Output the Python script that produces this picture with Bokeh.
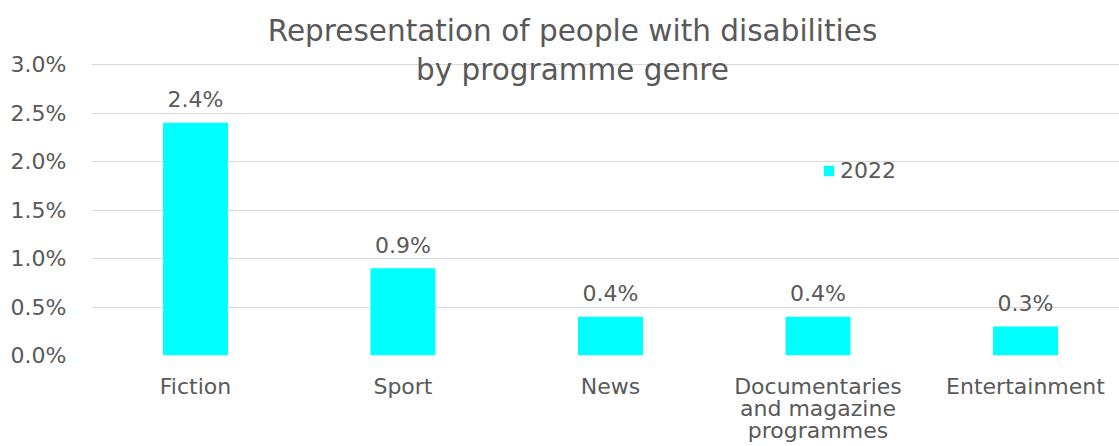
from bokeh.plotting import figure
from bokeh.models import ColumnDataSource, Range1d, FixedTicker, Label, Legend, LegendItem
from bokeh.core.properties import value
from bokeh.embed import file_html
from bokeh.resources import INLINE

categories = ["Fiction", "Sport", "News", "Documentaries\nand magazine\nprogrammes", "Entertainment"]
values_2022 = [2.4, 0.9, 0.4, 0.4, 0.3]
labels_2022 = ["2.4%", "0.9%", "0.4%", "0.4%", "0.3%"]
y_ticks = [0.0, 0.5, 1.0, 1.5, 2.0, 2.5, 3.0]
y_tick_labels = ["0.0%", "0.5%", "1.0%", "1.5%", "2.0%", "2.5%", "3.0%"]
series_name = "2022"
title_lines = ["Representation of people with disabilities", "by programme genre"]

FONT = "DejaVu Sans"
GREY = "#595959"
CYAN = "#00FFFF"
FS = "22px"

xs = list(range(len(categories)))
src = ColumnDataSource(dict(x=xs, top=values_2022, lab=labels_2022))

p = figure(width=1119, height=446, output_backend="svg", toolbar_location=None,
           x_range=Range1d(-0.501, 4.453), y_range=Range1d(0, 3.66),
           min_border_left=91, min_border_right=0, min_border_top=0, min_border_bottom=91)
p.outline_line_color = None
p.background_fill_color = "white"
p.border_fill_color = "white"

r = p.vbar(x="x", top="top", width=0.313, source=src, color=CYAN, line_color=None)
p.text(x="x", y="top", text="lab", source=src, text_align="center", text_baseline="alphabetic",
       y_offset=-23, text_font=value(FONT), text_font_size=FS, text_color=GREY)

# axes
p.xaxis.ticker = FixedTicker(ticks=xs)
p.xaxis.major_label_overrides = {i: c for i, c in enumerate(categories)}
p.yaxis.ticker = FixedTicker(ticks=y_ticks)
p.yaxis.major_label_overrides = {t: l for t, l in zip(y_ticks, y_tick_labels)}
for ax in (p.xaxis, p.yaxis):
    ax.axis_line_color = None
    ax.major_tick_line_color = None
    ax.minor_tick_line_color = None
    ax.major_label_text_font = FONT
    ax.major_label_text_font_size = FS
    ax.major_label_text_color = GREY
p.xaxis.major_label_text_line_height = 0.88
p.xaxis.major_label_standoff = 12
p.yaxis.major_label_standoff = 19

p.xgrid.grid_line_color = None
p.ygrid.grid_line_color = "#d9d9d9"
p.ygrid.grid_line_width = 1
p.ygrid.ticker = FixedTicker(ticks=y_ticks)

# title (centred on whole chart)
for i, t in enumerate(title_lines):
    p.add_layout(Label(x=481, y=325 - 39 * i, x_units="screen", y_units="screen", text=t,
                       text_align="center", text_baseline="alphabetic", text_font=FONT,
                       text_font_size="29.5px", text_color=GREY))

legend = Legend(items=[LegendItem(label=series_name, renderers=[r])], location=(731, 172),
                padding=0, margin=0, border_line_color=None, background_fill_alpha=0,
                glyph_width=13, glyph_height=13, label_standoff=5,
                label_text_font=FONT, label_text_font_size=FS, label_text_color=GREY)
p.add_layout(legend)

open("out.html", "w").write(file_html(p, INLINE))
